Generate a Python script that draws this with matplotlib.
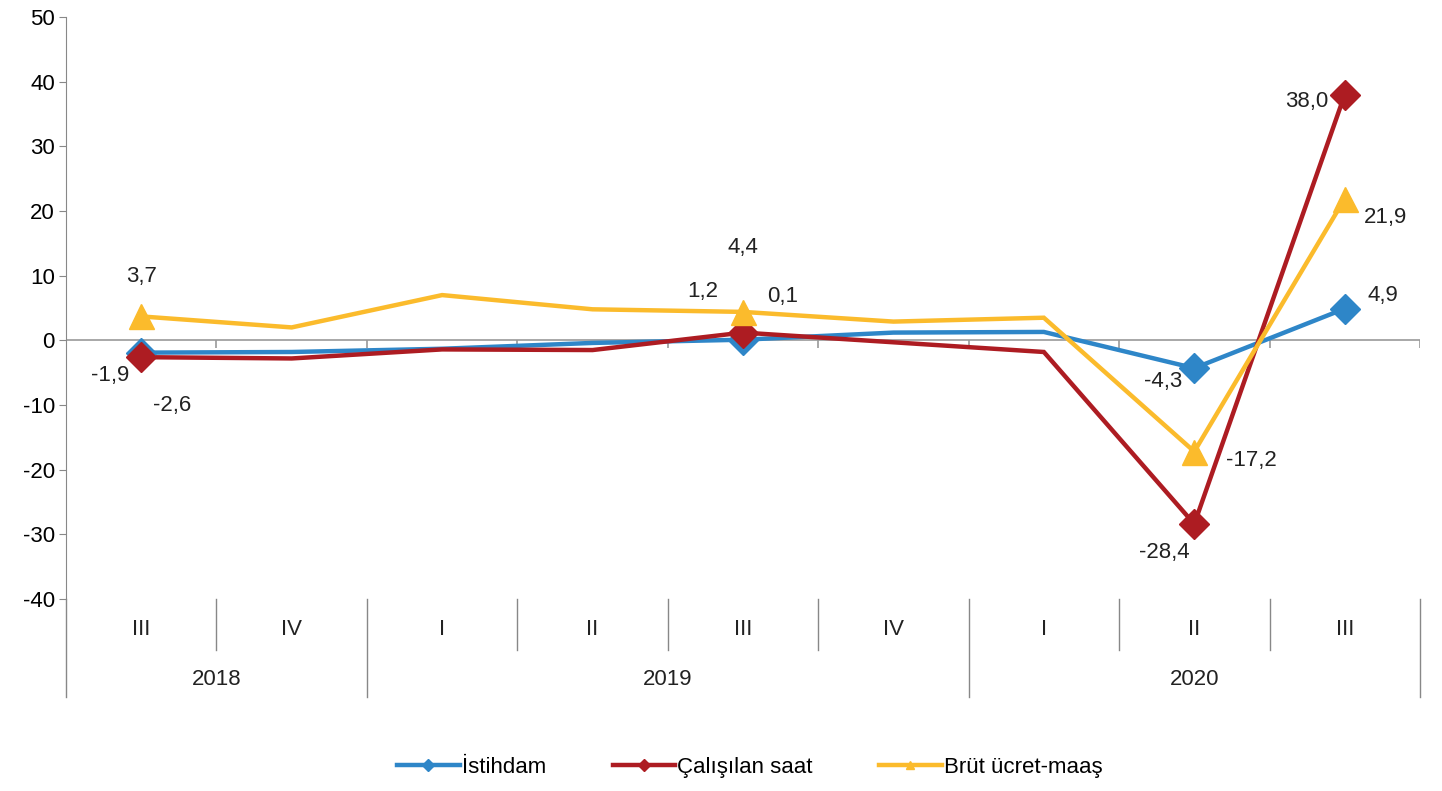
import matplotlib.pyplot as plt
import numpy as np
from matplotlib.lines import Line2D

plt.rcParams['font.family'] = ['Liberation Sans', 'DejaVu Sans']
plt.rcParams['axes.unicode_minus'] = False

# quarters and years along the x axis
quarters = ["III", "IV", "I", "II", "III", "IV", "I", "II", "III"]
years = ["2018", "2019", "2020"]
year_spans = [(0, 2), (2, 6), (6, 9)]

# annual change, %
istihdam = [-1.9, -1.8, -1.3, -0.4, 0.1, 1.2, 1.3, -4.3, 4.9]
calisilan_saat = [-2.6, -2.8, -1.4, -1.5, 1.2, -0.3, -1.8, -28.4, 38.0]
brut_ucret = [3.7, 2.0, 7.0, 4.8, 4.4, 2.9, 3.5, -17.2, 21.9]

# points that carry a big marker and a label
marked = [0, 4, 7, 8]

c_blue = "#2e86c8"
c_red = "#ad1c22"
c_yellow = "#fbbb2c"
fs = 16

fig = plt.figure(figsize=(14.42, 7.91), dpi=100)
ax = fig.add_axes([0.0458, 0.2427, 0.9389, 0.7358])

x = np.arange(len(quarters))
series = [
    (istihdam, c_blue, "D", 15, "İstihdam"),
    (calisilan_saat, c_red, "D", 15, "Çalışılan saat"),
    (brut_ucret, c_yellow, "^", 18, "Brüt ücret-maaş"),
]
for vals, col, mk, ms, name in series:
    ax.plot(x, vals, color=col, lw=3.2, zorder=3, solid_joinstyle="miter")
    ax.plot(x[marked], np.array(vals)[marked], ls="none", marker=mk,
            ms=ms, color=col, zorder=4)

# label offsets in pixels (dx, dy) for each marked point
label_offsets = {
    (0, 0): (-31, -23), (1, 0): (31, -48), (2, 0): (0, 40),
    (0, 4): (40, 43), (1, 4): (-40, 41), (2, 4): (0, 64),
    (0, 7): (-31, -13), (1, 7): (-30, -28), (2, 7): (57, -9),
    (0, 8): (38, 13), (1, 8): (-38, -7), (2, 8): (41, -19),
}
for si, (vals, col, mk, ms, name) in enumerate(series):
    for i in marked:
        dx, dy = label_offsets[(si, i)]
        txt = f"{vals[i]:.1f}".replace(".", ",")
        ax.annotate(txt, (x[i], vals[i]), xytext=(dx, dy),
                    textcoords="offset pixels", ha="center", va="center",
                    fontsize=fs, color="#222222", zorder=5)

ax.set_xlim(-0.5, len(quarters) - 0.5)
ax.set_ylim(-40, 50)
ax.set_yticks(range(-40, 51, 10))
ax.tick_params(axis="y", labelsize=fs, length=5, color="#888888", pad=3)
ax.set_xticks([])
for s in ["top", "right", "bottom"]:
    ax.spines[s].set_visible(False)
ax.spines["left"].set_color("#888888")

# zero line with small category ticks
ax.axhline(0, color="#999999", lw=1.2, zorder=2)
bounds = np.arange(0.5, len(quarters) - 0.4, 1.0)
ax.vlines(bounds, -1.2, 0, color="#999999", lw=1.2, zorder=2)

# category axis below the plot
trans = ax.get_xaxis_transform()
year_edges = [a - 0.5 for a, b in year_spans] + [len(quarters) - 0.5]
for b in np.arange(-0.5, len(quarters), 1.0):
    bottom = -0.168 if b in year_edges else -0.088
    ax.plot([b, b], [0, bottom], transform=trans, color="#888888",
            lw=1, clip_on=False)
for i, q in enumerate(quarters):
    ax.text(i, -0.053, q, transform=trans, ha="center", va="center",
            fontsize=fs, color="#222222")
for (a, b), yr in zip(year_spans, years):
    ax.text((a + b - 1) / 2, -0.139, yr, transform=trans, ha="center",
            va="center", fontsize=fs, color="#222222")

handles = [Line2D([], [], color=col, lw=3.2, marker=mk, ms=6)
           for vals, col, mk, ms, name in series]
fig.legend(handles, [s[4] for s in series], loc="center",
           bbox_to_anchor=(0.52, 0.03), ncol=3, frameon=False, fontsize=fs,
           handlelength=2.8, handletextpad=0.1, columnspacing=3.0)

fig.savefig("out.png", dpi=100)
